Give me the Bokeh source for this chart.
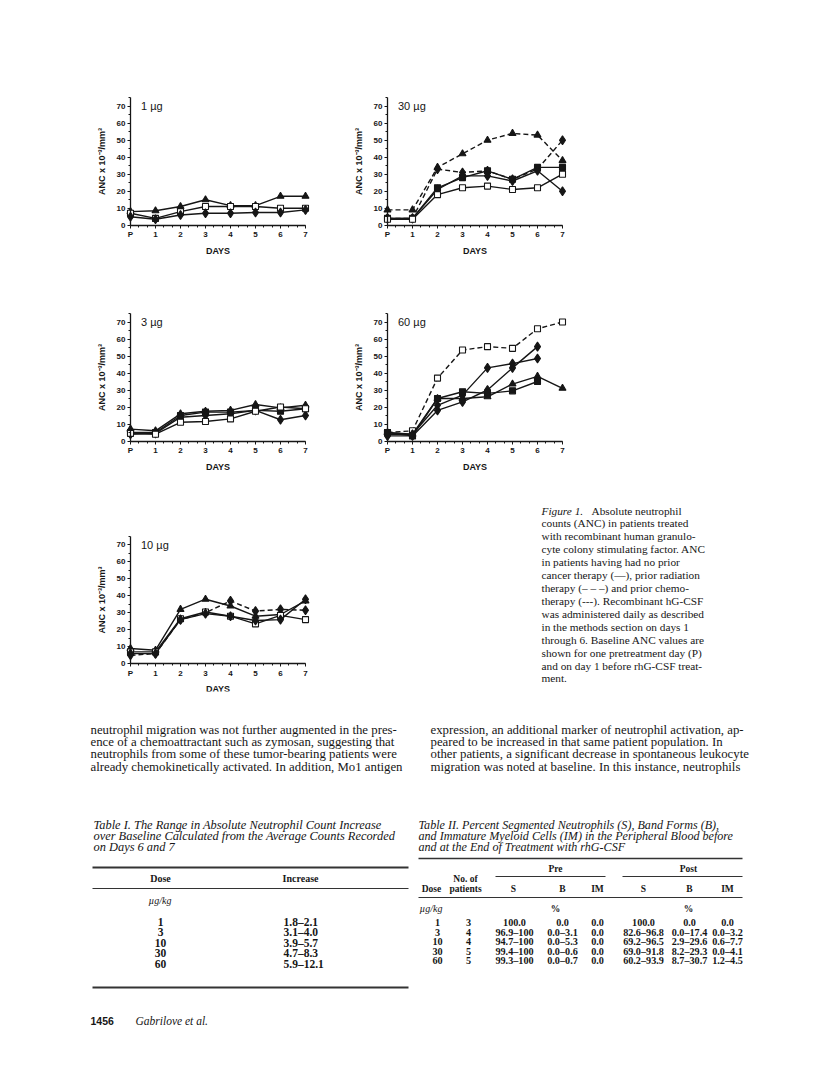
import numpy as np
from bokeh.plotting import figure
from bokeh.layouts import column, row
from bokeh.models import Range1d, LinearAxis, FixedTicker, Spacer
from bokeh.core.properties import value
from bokeh.embed import file_html
from bokeh.resources import INLINE

# ---------------- data ----------------
DAYS = ["P", "1", "2", "3", "4", "5", "6", "7"]
Y_TICKS = [0, 10, 20, 30, 40, 50, 60, 70]

# 1 ug
P1_TRI = [8, 8.5, 11, 15, 11.5, 11.5, 17, 17]
P1_OSQ = [7, 4, 8, 11, 11, 11, 10, 10]
P1_DIA = [5, 3.5, 6, 7, 7, 7.5, 7.5, 9]

# 30 ug
P2_DTRI = [9, 9, 34, 42, 50, 54, 53, 38]
P2_DDIA = [4, 4, 33, 31, 32, 27, 33, 50]
P2_SQ = [4, 4, 22, 28, 32, 27, 34, 34]
P2_DIA = [4, 4, 21, 29, 29, 26, 32, 20]
P2_OSQ = [3.5, 3.5, 18, 22, 23, 21, 22, 30]

# 3 ug
P3_TRI = [7, 6, 16, 17.5, 18, 21.5, 19.5, 21]
P3_SQ = [5, 5, 15, 17, 17, 18, 17.5, 19]
P3_DIA = [4, 4.5, 14, 15, 16, 18, 12.5, 15]
P3_OSQ = [4.5, 4, 11, 11.5, 13, 17.5, 20, 19]

# 60 ug
P4_DOSQ = [5, 6, 37, 53.5, 55.5, 54.5, 66, 70]
P4_DIA1 = [3, 3, 18, 23, 30, 43, 55.5]
P4_DIA2 = [4, 4, 21, 27, 43, 45.5, 48.5]
P4_TRI = [5, 4, 25, 25, 26, 33.5, 38, 31]
P4_SQ = [5, 3, 25, 29, 28, 29.5, 35]

# 10 ug
P5_TRI = [9, 8, 32, 38, 34, 28, 29, 37]
P5_DDIA = [5, 6, 26, 30, 37, 31, 32, 31.5]
P5_OSQ = [7, 7, 26.5, 30.5, 28, 23.5, 28.5, 26]
P5_DIA = [6, 6, 26, 29.5, 28, 25.5, 26, 38]

CAPTION = [
    "counts (ANC) in patients treated",
    "with recombinant human granulo-",
    "cyte colony stimulating factor. ANC",
    "in patients having had no prior",
    "cancer therapy (\u2014), prior radiation",
    "therapy (\u2013 \u2013 \u2013) and prior chemo-",
    "therapy (---). Recombinant hG-CSF",
    "was administered daily as described",
    "in the methods section on days 1",
    "through 6. Baseline ANC values are",
    "shown for one pretreatment day (P)",
    "and on day 1 before rhG-CSF treat-",
    "ment.",
]
BODY_LEFT = [
    "neutrophil migration was not further augmented in the pres-",
    "ence of a chemoattractant such as zymosan, suggesting that",
    "neutrophils from some of these tumor-bearing patients were",
    "already chemokinetically activated. In addition, Mo1 antigen",
]
BODY_RIGHT = [
    "expression, an additional marker of neutrophil activation, ap-",
    "peared to be increased in that same patient population. In",
    "other patients, a significant decrease in spontaneous leukocyte",
    "migration was noted at baseline. In this instance, neutrophils",
]
T1_TITLE = [
    "Table I. The Range in Absolute Neutrophil Count Increase",
    "over Baseline Calculated from the Average Counts Recorded",
    "on Days 6 and 7",
]
DOSES = ["1", "3", "10", "30", "60"]
T1_INCREASE = ["1.8\u20132.1", "3.1\u20134.0", "3.9\u20135.7", "4.7\u20138.3", "5.9\u201312.1"]

T2_TITLE = [
    "Table II. Percent Segmented Neutrophils (S), Band Forms (B),",
    "and Immature Myeloid Cells (IM) in the Peripheral Blood before",
    "and at the End of Treatment with rhG-CSF",
]
T2_N = ["3", "4", "4", "5", "5"]
PRE_S = ["100.0", "96.9\u2013100", "94.7\u2013100", "99.4\u2013100", "99.3\u2013100"]
PRE_B = ["0.0", "0.0\u20133.1", "0.0\u20135.3", "0.0\u20130.6", "0.0\u20130.7"]
PRE_IM = ["0.0", "0.0", "0.0", "0.0", "0.0"]
POST_S = ["100.0", "82.6\u201396.8", "69.2\u201396.5", "69.0\u201391.8", "60.2\u201393.9"]
POST_B = ["0.0", "0.0\u201317.4", "2.9\u201329.6", "8.2\u201329.3", "8.7\u201330.7"]
POST_IM = ["0.0", "0.0\u20133.2", "0.6\u20137.7", "0.0\u20134.1", "1.2\u20134.5"]

# ---------------- styling helpers ----------------
SANS_NAME = "Liberation Sans"
SANS = value(SANS_NAME)
SERIF = value("Liberation Serif")
INK = "#161616"
DX, DY = 25.0, 1.7

MARKERS = {
    "tri": dict(marker="triangle", size=7, fill_color=INK),
    "sq": dict(marker="square", size=6, fill_color=INK),
    "osq": dict(marker="square", size=6, fill_color="white"),
    "dia": dict(marker="diamond", size=9, fill_color=INK),
}


def panel(label, series, fig_left, fig_top, width, height, axis_x, zero_y,
          T, B, L=35, R=3):
    fl = fig_left + L
    fr = fig_left + width - R
    ft = fig_top + T
    fb = fig_top + height - B
    xr = Range1d((fl - axis_x) / DX, (fr - axis_x) / DX)
    yr = Range1d((zero_y - fb) / DY, (zero_y - ft) / DY)
    p = figure(width=width, height=height, x_range=xr, y_range=yr,
               min_border_left=L, min_border_right=R, min_border_top=T,
               min_border_bottom=B, toolbar_location=None, output_backend="svg",
               x_axis_location=None, y_axis_location=None)
    p.outline_line_color = None
    p.background_fill_color = "white"
    p.border_fill_color = "white"
    p.grid.visible = False

    xpos = list(range(len(DAYS)))
    yax = LinearAxis(fixed_location=0, bounds=(0, 75),
                     ticker=FixedTicker(ticks=Y_TICKS,
                                        minor_ticks=[t + 5 for t in Y_TICKS]),
                     axis_label="ANC x 10\u207b\u00b3/mm\u00b3")
    xax = LinearAxis(fixed_location=0, bounds=(0, 7),
                     ticker=FixedTicker(ticks=xpos,
                                        minor_ticks=[i / 3 for i in range(22)]),
                     major_label_overrides={i: d for i, d in enumerate(DAYS)},
                     axis_label="DAYS")
    for ax in (xax, yax):
        ax.axis_line_color = INK
        ax.axis_line_width = 1.3
        ax.major_tick_line_color = INK
        ax.minor_tick_line_color = INK
        ax.major_tick_in = 0
        ax.major_tick_out = 3
        ax.minor_tick_in = 0
        ax.minor_tick_out = 2
        ax.major_label_text_font = SANS_NAME
        ax.major_label_text_font_style = "bold"
        ax.major_label_text_font_size = "8px"
        ax.major_label_text_color = INK
        ax.major_label_standoff = 2
        ax.axis_label_text_font = SANS_NAME
        ax.axis_label_text_font_style = "bold"
        ax.axis_label_text_font_size = "9px"
        ax.axis_label_text_color = INK
    yax.axis_label_standoff = 7
    xax.axis_label_standoff = 3
    p.add_layout(yax, "left")
    p.add_layout(xax, "below")

    for vals, mk, dash in series:
        xs = xpos[:len(vals)]
        p.line(xs, vals, line_color=INK, line_width=1.4, line_dash=dash)
        p.scatter(xs, vals, line_color=INK, line_width=1.1, **MARKERS[mk])

    p.text(x=[0.42], y=[70], text=[label], text_font=SANS, text_font_size="11px",
           text_color=INK, text_baseline="middle", text_align="left")
    return p


def text_fig(x0, y0, w, h, T=0, B=0):
    p = figure(width=w, height=h, x_range=Range1d(x0, x0 + w),
               y_range=Range1d(y0 + h - B, y0 + T), min_border_left=0,
               min_border_right=0, min_border_top=T, min_border_bottom=B,
               toolbar_location=None, output_backend="svg",
               x_axis_location=None, y_axis_location=None)
    p.outline_line_color = None
    p.background_fill_color = "white"
    p.border_fill_color = "white"
    p.grid.visible = False
    return p


def put(p, x, y, txt, size="11px", style="normal", align="left", font=SERIF):
    p.text(x=[x], y=[y], text=[txt], text_font=font, text_font_size=size,
           text_font_style=style, text_color=INK, text_baseline="middle",
           text_align=align)


SOLID, DASH = "solid", "5 3"

# ---------------- panels ----------------
W = 254
XL, XR = 59, 316
p1 = panel("1 \u00b5g", [(P1_TRI, "tri", SOLID), (P1_OSQ, "osq", SOLID),
                         (P1_DIA, "dia", SOLID)],
           XL, 88, W, 198, 130, 224.7, T=5, B=31)
p2 = panel("30 \u00b5g", [(P2_DTRI, "tri", DASH), (P2_DDIA, "dia", DASH),
                          (P2_SQ, "sq", SOLID), (P2_DIA, "dia", SOLID),
                          (P2_OSQ, "osq", SOLID)],
           XR, 88, W, 198, 387, 224.7, T=5, B=31)
p3 = panel("3 \u00b5g", [(P3_TRI, "tri", SOLID), (P3_SQ, "sq", SOLID),
                         (P3_DIA, "dia", SOLID), (P3_OSQ, "osq", SOLID)],
           XL, 304, W, 198, 130, 440.5, T=5, B=31)
p4 = panel("60 \u00b5g", [(P4_DOSQ, "osq", DASH), (P4_DIA1, "dia", SOLID),
                          (P4_DIA2, "dia", SOLID), (P4_TRI, "tri", SOLID),
                          (P4_SQ, "sq", SOLID)],
           XR, 304, W, 198, 387, 440.5, T=5, B=31)
p5 = panel("10 \u00b5g", [(P5_TRI, "tri", SOLID), (P5_DDIA, "dia", DASH),
                          (P5_OSQ, "osq", SOLID), (P5_DIA, "dia", SOLID)],
           XL, 502, W, 220, 130, 663.3, T=0, B=31)

# ---------------- caption ----------------
cap = text_fig(313, 502, 497, 220, T=0, B=31)
put(cap, 541, 510, "Figure 1.", size="11.3px", style="italic")
put(cap, 591, 510, "Absolute neutrophil", size="11.3px")
for i, line in enumerate(CAPTION):
    put(cap, 541, 510 + (i + 1) * 12.92, line, size="11.3px")

# ---------------- lower text ----------------
bot = text_fig(0, 722, 810, 343)
for i, line in enumerate(BODY_LEFT):
    put(bot, 90, 729 + i * 12.4, line, size="12.8px")
for i, line in enumerate(BODY_RIGHT):
    put(bot, 430, 729 + i * 12.4, line, size="12.8px")

# Table I
for i, line in enumerate(T1_TITLE):
    put(bot, 93, 824 + i * 11, line, size="12.4px", style="italic")
bot.segment(x0=[92, 92, 92], y0=[867, 888, 987], x1=[408, 408, 408],
            y1=[867, 888, 987], line_color="#333333", line_width=[2, 1, 2])
put(bot, 160, 878, "Dose", size="10px", style="bold", align="center")
put(bot, 300, 878, "Increase", size="10px", style="bold", align="center")
put(bot, 148, 900, "\u00b5g/kg", size="10px", style="italic")
for i, (d, inc) in enumerate(zip(DOSES, T1_INCREASE)):
    put(bot, 160, 921 + i * 10.5, d, size="11.5px", style="bold", align="center")
    put(bot, 283, 921 + i * 10.5, inc, size="11.5px", style="bold")

# Table II
for i, line in enumerate(T2_TITLE):
    put(bot, 418, 824 + i * 11, line, size="12.1px", style="italic")
bot.segment(x0=[418, 495, 622, 418], y0=[858, 876, 876, 897],
            x1=[742, 605, 742, 742], y1=[858, 876, 876, 897],
            line_color="#333333", line_width=[1.5, 1, 1, 1])
put(bot, 555, 868, "Pre", size="9.5px", style="bold", align="center")
put(bot, 688, 868, "Post", size="9.5px", style="bold", align="center")
put(bot, 465, 878, "No. of", size="9.5px", style="bold", align="center")
hdr = [(431, "Dose"), (465, "patients"), (513, "S"), (562, "B"), (597, "IM"),
       (643, "S"), (689, "B"), (727, "IM")]
for x, t in hdr:
    put(bot, x, 888, t, size="9.5px", style="bold", align="center")
put(bot, 419, 908, "\u00b5g/kg", size="10px", style="italic")
put(bot, 555, 908, "%", size="9.5px", style="bold", align="center")
put(bot, 688, 908, "%", size="9.5px", style="bold", align="center")
cols = [(437, DOSES), (468, T2_N), (514, PRE_S), (562, PRE_B), (597, PRE_IM),
        (643, POST_S), (689, POST_B), (727, POST_IM)]
for x, vals in cols:
    for i, v in enumerate(vals):
        put(bot, x, 922 + i * 9.6, v, size="10.2px", style="bold", align="center")

# footer
put(bot, 90, 1020, "1456", size="10.5px", style="bold", font=SANS)
put(bot, 135, 1020, "Gabrilove et al.", size="11.5px", style="italic")

# ---------------- layout ----------------
layout = column(
    Spacer(width=810, height=88),
    row(Spacer(width=XL, height=198), p1, Spacer(width=XR - XL - W, height=198), p2),
    Spacer(width=810, height=18),
    row(Spacer(width=XL, height=198), p3, Spacer(width=XR - XL - W, height=198), p4),
    row(Spacer(width=XL, height=220), p5, cap),
    bot,
)

open("out.html", "w").write(file_html(layout, INLINE))
